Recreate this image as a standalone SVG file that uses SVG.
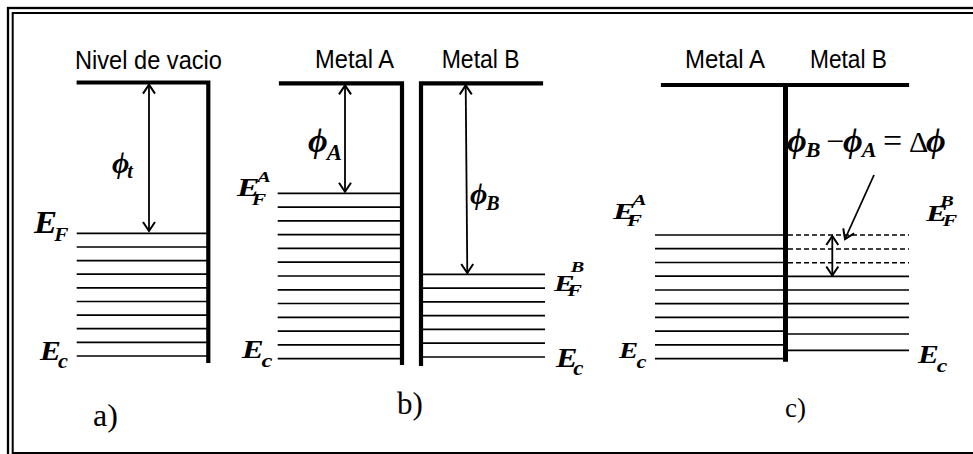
<svg xmlns="http://www.w3.org/2000/svg" width="973" height="454" viewBox="0 0 973 454">
<defs>
<style>
.frame-o{fill:none;stroke:#000;stroke-width:2.3}
.frame-i{fill:none;stroke:#000;stroke-width:2}
.thick{stroke:#000;stroke-width:4.2;fill:none;stroke-linecap:square}
.lvl{stroke:#000;stroke-width:1.7}
.dash{stroke:#000;stroke-width:1.5;stroke-dasharray:5 3}
.arr{stroke:#000;stroke-width:1.8;fill:none;marker-end:url(#ah);marker-start:url(#ah)}
.arr1{stroke:#000;stroke-width:1.8;fill:none;marker-end:url(#ah)}
.lab{font-family:"Liberation Sans",Arial,sans-serif;font-size:25px;fill:#000}
.m{font-family:"Liberation Serif","DejaVu Serif",serif;font-style:italic;font-weight:bold;fill:#000}
.rm{font-family:"Liberation Serif","Times New Roman",serif;fill:#000}
</style>
<marker id="ah" markerUnits="userSpaceOnUse" markerWidth="14" markerHeight="14" viewBox="-12 -7 14 14" refX="0" refY="0" orient="auto-start-reverse">
<path d="M-9,-6 L0,0 L-9,6" fill="none" stroke="#000" stroke-width="2"/>
</marker>
</defs>
<rect width="973" height="454" fill="#fff"/>
<g id="frame">
<rect class="frame-o" x="8" y="8" width="975" height="455"/>
<rect class="frame-i" x="12.7" y="13" width="970" height="440"/>
</g>

<g id="panel-a">
<text class="lab" x="75" y="69.3" textLength="147" lengthAdjust="spacingAndGlyphs">Nivel de vacio</text>
<path class="thick" d="M78.7,82.5 H208.3 V361"/>
<g>
<line class="lvl" x1="76.7" y1="233.3" x2="207" y2="233.3"/>
<line class="lvl" x1="76.7" y1="247" x2="207" y2="247"/>
<line class="lvl" x1="76.7" y1="260.6" x2="207" y2="260.6"/>
<line class="lvl" x1="76.7" y1="274.2" x2="207" y2="274.2"/>
<line class="lvl" x1="76.7" y1="287.8" x2="207" y2="287.8"/>
<line class="lvl" x1="76.7" y1="301.5" x2="207" y2="301.5"/>
<line class="lvl" x1="76.7" y1="315.1" x2="207" y2="315.1"/>
<line class="lvl" x1="76.7" y1="328.7" x2="207" y2="328.7"/>
<line class="lvl" x1="76.7" y1="342.4" x2="207" y2="342.4"/>
<line class="lvl" x1="76.7" y1="356" x2="207" y2="356"/>
</g>
<text class="m" x="112" y="173" font-size="30">ϕ<tspan font-size="20" dx="-2" dy="5">t</tspan></text>
<text class="m" transform="translate(34,233.3) scale(1.12,1)" font-size="31">E<tspan font-size="19" x="18" dy="7.4">F</tspan></text>
<text class="m" transform="translate(40,360) scale(1.12,1)" font-size="28">E<tspan font-size="20" x="16" dy="8">c</tspan></text>
<text class="rm" x="93" y="426" font-size="32">a)</text>
</g>

<g id="panel-b">
<text class="lab" x="315" y="68.3" textLength="79" lengthAdjust="spacingAndGlyphs">Metal A</text>
<text class="lab" x="441.7" y="68.3" textLength="78" lengthAdjust="spacingAndGlyphs">Metal B</text>
<path class="thick" d="M281,83.3 H402 V363"/>
<path class="thick" d="M421,364 V83.3 H541"/>
<g>
<line class="lvl" x1="277.7" y1="193.3" x2="400" y2="193.3"/>
<line class="lvl" x1="277.7" y1="207.1" x2="400" y2="207.1"/>
<line class="lvl" x1="277.7" y1="220.9" x2="400" y2="220.9"/>
<line class="lvl" x1="277.7" y1="234.6" x2="400" y2="234.6"/>
<line class="lvl" x1="277.7" y1="248.4" x2="400" y2="248.4"/>
<line class="lvl" x1="277.7" y1="262.2" x2="400" y2="262.2"/>
<line class="lvl" x1="277.7" y1="276" x2="400" y2="276"/>
<line class="lvl" x1="277.7" y1="289.8" x2="400" y2="289.8"/>
<line class="lvl" x1="277.7" y1="303.5" x2="400" y2="303.5"/>
<line class="lvl" x1="277.7" y1="317.3" x2="400" y2="317.3"/>
<line class="lvl" x1="277.7" y1="331.1" x2="400" y2="331.1"/>
<line class="lvl" x1="277.7" y1="344.9" x2="400" y2="344.9"/>
<line class="lvl" x1="277.7" y1="358.7" x2="400" y2="358.7"/>
</g>
<g>
<line class="lvl" x1="423" y1="274.3" x2="545" y2="274.3"/>
<line class="lvl" x1="423" y1="288.1" x2="545" y2="288.1"/>
<line class="lvl" x1="423" y1="301.9" x2="545" y2="301.9"/>
<line class="lvl" x1="423" y1="315.7" x2="545" y2="315.7"/>
<line class="lvl" x1="423" y1="329.4" x2="545" y2="329.4"/>
<line class="lvl" x1="423" y1="343.2" x2="545" y2="343.2"/>
<line class="lvl" x1="423" y1="357" x2="545" y2="357"/>
</g>
<text class="m" x="308" y="152" font-size="34">ϕ<tspan font-size="23" dx="-1" dy="8">A</tspan></text>
<text class="m" x="470" y="204" font-size="30">ϕ<tspan font-size="20" dx="-1" dy="6">B</tspan></text>
<text class="m" transform="translate(237,196) scale(1.35,1)" font-size="25">E<tspan font-size="16" x="11" dy="9">F</tspan><tspan font-size="15" x="15" y="-14.3">A</tspan></text>
<text class="m" transform="translate(554,291) scale(1.35,1)" font-size="23">E<tspan font-size="16" x="10" dy="5">F</tspan><tspan font-size="15" x="12.5" y="-19">B</tspan></text>
<text class="m" transform="translate(242,358.3) scale(1.3,1)" font-size="25">E<tspan font-size="19" x="15" dy="8.4">c</tspan></text>
<text class="m" transform="translate(556,366.7) scale(1.15,1)" font-size="28">E<tspan font-size="20" x="15" dy="8.3">c</tspan></text>
<text class="rm" x="397" y="414" font-size="31">b)</text>
</g>

<g id="panel-c">
<text class="lab" x="685" y="68.3" textLength="80" lengthAdjust="spacingAndGlyphs">Metal A</text>
<text class="lab" x="810" y="68.3" textLength="77" lengthAdjust="spacingAndGlyphs">Metal B</text>
<path class="thick" d="M663,85 H907"/>
<line class="thick" x1="785.5" y1="85" x2="785.5" y2="361.7" style="stroke-width:5;stroke-linecap:butt"/>
<g>
<line class="lvl" x1="655" y1="235" x2="783" y2="235"/>
<line class="lvl" x1="655" y1="248.7" x2="783" y2="248.7"/>
<line class="lvl" x1="655" y1="262.5" x2="783" y2="262.5"/>
<line class="lvl" x1="655" y1="276.2" x2="783" y2="276.2"/>
<line class="lvl" x1="655" y1="290" x2="783" y2="290"/>
<line class="lvl" x1="655" y1="303.7" x2="783" y2="303.7"/>
<line class="lvl" x1="655" y1="317.4" x2="783" y2="317.4"/>
<line class="lvl" x1="655" y1="331.2" x2="783" y2="331.2"/>
<line class="lvl" x1="655" y1="344.9" x2="783" y2="344.9"/>
<line class="lvl" x1="655" y1="358.7" x2="783" y2="358.7"/>
</g>
<g>
<line class="dash" x1="788" y1="235" x2="909" y2="235"/>
<line class="dash" x1="788" y1="249" x2="909" y2="249"/>
<line class="dash" x1="788" y1="262.7" x2="909" y2="262.7"/>
<line class="lvl" x1="788" y1="276.3" x2="909" y2="276.3"/>
<line class="lvl" x1="788" y1="290" x2="909" y2="290"/>
<line class="lvl" x1="788" y1="303.7" x2="909" y2="303.7"/>
<line class="lvl" x1="788" y1="317.3" x2="909" y2="317.3"/>
<line class="lvl" x1="788" y1="334" x2="909" y2="334"/>
<line class="lvl" x1="788" y1="350.3" x2="909" y2="350.3"/>
</g>
<text class="m" x="787" y="152" font-size="34">ϕ<tspan font-size="22" dx="-1" dy="5">B</tspan><tspan class="rm" font-style="normal" font-weight="normal" font-size="32" x="826" y="152">−</tspan><tspan x="843" y="152">ϕ</tspan><tspan font-size="22" dx="-1" dy="5">A</tspan><tspan class="rm" font-style="normal" font-weight="normal" font-size="34" x="883" y="152">=</tspan><tspan font-style="normal" font-weight="normal" font-size="30" x="909" y="152">Δ</tspan><tspan x="926" y="152">ϕ</tspan></text>
<text class="m" transform="translate(613,219) scale(1.4,1)" font-size="24">E<tspan font-size="16" x="10" dy="7">F</tspan><tspan font-size="15" x="14" y="-14">A</tspan></text>
<text class="m" transform="translate(926,221) scale(1.35,1)" font-size="24">E<tspan font-size="16" x="12.5" dy="5">F</tspan><tspan font-size="15" x="10.5" y="-15">B</tspan></text>
<text class="m" transform="translate(619,358.3) scale(1.25,1)" font-size="23">E<tspan font-size="18" x="14" dy="9.7">c</tspan></text>
<text class="m" transform="translate(918,363.3) scale(1.25,1)" font-size="25">E<tspan font-size="19" x="15" dy="8.4">c</tspan></text>
<text class="rm" x="785" y="417" font-size="27">c)</text>
</g>

<g id="connectors">
<line class="arr" x1="149" y1="84.6" x2="149" y2="231"/>
<line class="arr" x1="345" y1="85.4" x2="345" y2="191.7"/>
<line class="arr" x1="465.7" y1="85.4" x2="467.3" y2="273"/>
<line class="arr" x1="832.3" y1="236" x2="832.3" y2="275.5"/>
<line class="arr1" x1="874" y1="175" x2="845" y2="239"/>
</g>
</svg>
